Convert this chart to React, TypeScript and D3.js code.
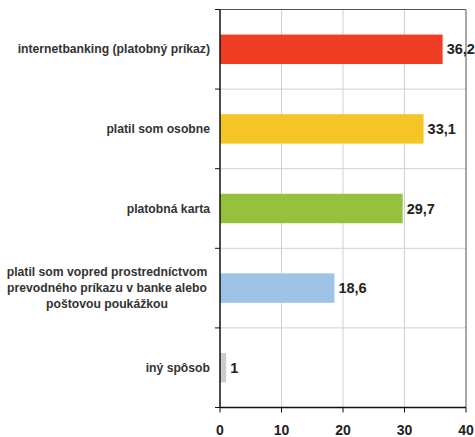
import React from "react";
import * as d3 from "d3";

const categories: string[][] = [
  ["internetbanking (platobný príkaz)"],
  ["platil som osobne"],
  ["platobná karta"],
  ["platil som vopred prostredníctvom", "prevodného príkazu v banke alebo", "poštovou poukážkou"],
  ["iný spôsob"],
];
const values = [36.2, 33.1, 29.7, 18.6, 1];
const valueLabels = ["36,2", "33,1", "29,7", "18,6", "1"];
const colors = ["#EF3E24", "#F3C623", "#95C13D", "#9DC3E6", "#CCCCCC"];
const xTicks = [0, 10, 20, 30, 40];

export default function App() {
  const W = 475, H = 437;
  const left = 220, right = 466, top = 9.5, bottom = 407.5;
  const x = d3.scaleLinear().domain([0, 40]).range([left, right]);
  const y = d3.scaleBand<number>().domain(d3.range(values.length)).range([top, bottom]).paddingInner(0.63).paddingOuter(0.315);
  const yb = d3.scaleBand<number>().domain(d3.range(values.length)).range([top, bottom]);
  const font = "'Liberation Sans', Arial, sans-serif";
  return (
    <svg width={W} height={H} style={{ position: "absolute", left: 0, top: 0, background: "#fff" }} fontFamily={font}>
      {xTicks.slice(1, -1).map((t) => (
        <line key={"vg" + t} x1={x(t)} x2={x(t)} y1={top} y2={bottom} stroke="#d0d0d0" strokeWidth={1} />
      ))}
      {d3.range(1, values.length).map((i) => (
        <line key={"hg" + i} x1={left} x2={right} y1={yb(i)!} y2={yb(i)!} stroke="#d0d0d0" strokeWidth={1} />
      ))}
      <line x1={left} x2={right} y1={top} y2={top} stroke="#555" strokeWidth={1} />
      <line x1={right} x2={right} y1={top} y2={bottom} stroke="#555" strokeWidth={1} />
      {values.map((v, i) => (
        <rect key={"b" + i} x={x(0)} y={y(i)!} width={x(v) - x(0)} height={y.bandwidth()} fill={colors[i]} />
      ))}
      <line x1={left} x2={left} y1={top} y2={bottom} stroke="#111" strokeWidth={1.5} />
      <line x1={left} x2={right} y1={bottom} y2={bottom} stroke="#111" strokeWidth={1.5} />
      {d3.range(0, values.length + 1).map((i) => {
        const yy = i < values.length ? yb(i)! : bottom;
        return <line key={"yt" + i} x1={left - 5} x2={left} y1={yy} y2={yy} stroke="#111" strokeWidth={1} />;
      })}
      {xTicks.map((t) => (
        <g key={"xt" + t}>
          <line x1={x(t)} x2={x(t)} y1={bottom} y2={bottom + 5} stroke="#111" strokeWidth={1} />
          <text x={x(t)} y={435} textAnchor="middle" fontSize={14} fontWeight="bold" fill="#222">{t}</text>
        </g>
      ))}
      {categories.map((lines, i) => {
        const cy = yb(i)! + yb.bandwidth() / 2;
        const lh = 16;
        const multi = lines.length > 1;
        return (
          <text key={"c" + i} fontSize={12.2} fontWeight="bold" fill="#333" textAnchor={multi ? "middle" : "end"}>
            {lines.map((l, j) => (
              <tspan key={j} x={multi ? 107 : 210} y={cy + (j - (lines.length - 1) / 2) * lh + 4}>{l}</tspan>
            ))}
          </text>
        );
      })}
      {values.map((v, i) => (
        <text key={"v" + i} x={x(v) + 4} y={y(i)! + y.bandwidth() / 2 + 5} fontSize={14.5} fontWeight="bold" fill="#222">{valueLabels[i]}</text>
      ))}
    </svg>
  );
}
